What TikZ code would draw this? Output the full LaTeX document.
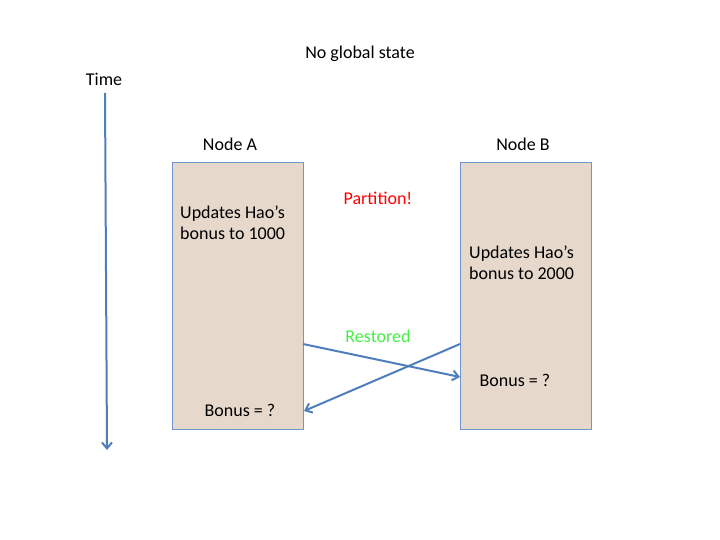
\documentclass[tikz,border=0pt]{standalone}
\usepackage{fontspec}
\setmainfont{Carlito}
\usetikzlibrary{arrows.meta}
\definecolor{boxfill}{HTML}{E6D9CC}
\definecolor{boxline}{HTML}{7097CC}
\definecolor{arrowc}{HTML}{4F7EBD}
\definecolor{grn}{HTML}{44EE44}
\begin{document}
\begin{tikzpicture}[x=1pt,y=-1pt,
  txt/.style={font=\fontsize{18}{21}\selectfont, inner sep=0pt},
  nodebox/.style={draw=boxline, fill=boxfill, line width=0.9pt, minimum width=131pt, minimum height=267pt, inner sep=0pt},
  conn/.style={draw=arrowc, line width=2pt, -{Straight Barb[length=6pt,width=10pt]}}]
\useasboundingbox (0,0) rectangle (720,540);
\node[txt] (title) at (360,54) {No global state};
\node[txt] (time) at (104,79) {Time};
\coordinate (t0) at (105,93);
\coordinate (t1) at (107,450);
\draw[conn] (t0) -- (t1);
\node[nodebox] (A) at (237.5,295.5) {};
\node[nodebox] (B) at (525.5,295.5) {};
\node[txt] (la) at (230,144) {Node A};
\node[txt] (lb) at (523,144) {Node B};
\node[txt, text=red] (part) at (378,198) {Partition!};
\node[txt, align=left, anchor=west] (ua) at (180,222.5) {Updates Hao’s\\bonus to 1000};
\node[txt, align=left, anchor=west] (ub) at (469,262.5) {Updates Hao’s\\bonus to 2000};
\node[txt, text=grn] (rest) at (378,336) {Restored};
\node[txt] (ba) at (240,410) {Bonus = ?};
\node[txt] (bb) at (515,380) {Bonus = ?};
\coordinate (a1) at (303,344);
\coordinate (b1) at (460,377);
\coordinate (b2) at (460,344);
\coordinate (a2) at (304,411);
\draw[conn] (a1) -- (b1);
\draw[conn] (b2) -- (a2);
\end{tikzpicture}
\end{document}
